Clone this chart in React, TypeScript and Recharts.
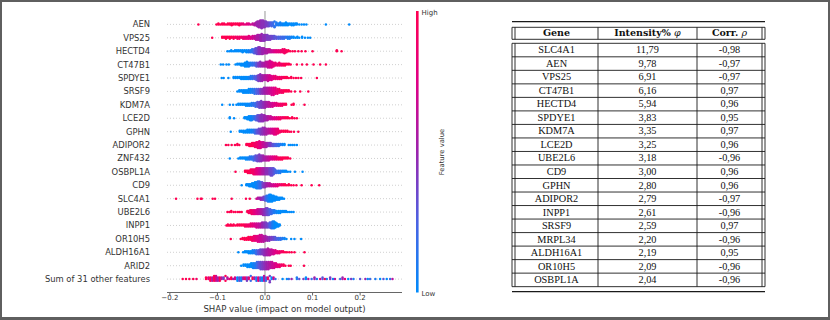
import { ScatterChart, Scatter, XAxis, YAxis, ReferenceLine } from 'recharts';

// SHAP beeswarm rows, top to bottom. Each entry: [shap value, feature value 0..1, number of samples]
type Bin = [number, number, number];

const FEATURES = [
  'AEN', 'VPS25', 'HECTD4', 'CT47B1', 'SPDYE1', 'SRSF9', 'KDM7A', 'LCE2D', 'GPHN', 'ADIPOR2',
  'ZNF432', 'OSBPL1A', 'CD9', 'SLC4A1', 'UBE2L6', 'INPP1', 'OR10H5', 'ALDH16A1', 'ARID2',
  'Sum of 31 other features',
];

const AEN: Bin[] = [
  [-0.14, 1, 1], [-0.102, 1, 1], [-0.098, 1, 2], [-0.094, 1, 1], [-0.09, 1, 2], [-0.086, 1, 2], [-0.082, 1, 1],
  [-0.078, 1, 2], [-0.074, 1, 2], [-0.07, 1, 3], [-0.066, 1, 2], [-0.062, 1, 2], [-0.058, 1, 2], [-0.054, 1, 3],
  [-0.05, 0.85, 2], [-0.046, 0.85, 2], [-0.042, 0.8, 1], [-0.038, 0.8, 2], [-0.034, 0.75, 2], [-0.03, 0.7, 1],
  [-0.026, 0.65, 2], [-0.022, 0.6, 3], [-0.019, 0.55, 4], [-0.016, 0.5, 6], [-0.013, 0.5, 7], [-0.01, 0.5, 8],
  [-0.007, 0.45, 9], [-0.004, 0.45, 8], [-0.001, 0.45, 7], [0.002, 0.4, 6], [0.005, 0.4, 5], [0.008, 0.35, 5],
  [0.011, 0.3, 4], [0.014, 0.25, 5], [0.017, 0.2, 4], [0.02, 0.15, 3], [0.024, 0.1, 4], [0.028, 0.1, 3],
  [0.032, 0.05, 4], [0.036, 0.05, 3], [0.04, 0, 3], [0.044, 0, 4], [0.048, 0, 3], [0.052, 0, 2], [0.056, 0, 3],
  [0.06, 0, 3], [0.064, 0, 2], [0.067, 0, 2], [0.072, 0, 1], [0.077, 0, 1], [0.082, 0, 1], [0.087, 0, 1],
  [0.128, 0, 1], [0.177, 0, 1],
];
const VPS25: Bin[] = [
  [-0.111, 1, 1], [-0.09, 1, 2], [-0.086, 1, 2], [-0.082, 1, 3], [-0.078, 1, 2], [-0.074, 1, 3], [-0.07, 1, 2],
  [-0.066, 0.95, 3], [-0.062, 0.95, 2], [-0.058, 0.9, 3], [-0.054, 0.9, 3], [-0.05, 0.9, 2], [-0.046, 0.85, 3],
  [-0.042, 0.85, 3], [-0.038, 0.8, 3], [-0.034, 0.8, 4], [-0.03, 0.75, 3], [-0.026, 0.7, 4], [-0.022, 0.65, 4],
  [-0.019, 0.6, 5], [-0.016, 0.55, 6], [-0.013, 0.55, 6], [-0.01, 0.5, 7], [-0.007, 0.5, 8], [-0.004, 0.45, 7],
  [-0.001, 0.45, 7], [0.002, 0.45, 6], [0.005, 0.4, 6], [0.008, 0.4, 5], [0.011, 0.4, 5], [0.014, 0.35, 4],
  [0.017, 0.35, 4], [0.02, 0.3, 4], [0.024, 0.3, 3], [0.028, 0.25, 3], [0.032, 0.25, 3], [0.036, 0.2, 3],
  [0.04, 0.2, 3], [0.044, 0.15, 2], [0.048, 0.1, 3], [0.052, 0.1, 3], [0.056, 0.05, 2], [0.06, 0, 2],
  [0.064, 0, 1], [0.068, 0, 2], [0.072, 0, 1], [0.078, 0, 2], [0.084, 0, 1], [0.09, 0, 1], [0.095, 0, 1],
];
const HECTD4: Bin[] = [
  [-0.079, 0, 1], [-0.075, 0, 1], [-0.071, 0, 2], [-0.067, 0, 1], [-0.063, 0, 2], [-0.059, 0, 2], [-0.055, 0, 2],
  [-0.051, 0, 2], [-0.047, 0, 3], [-0.043, 0, 2], [-0.039, 0, 3], [-0.035, 0.05, 3], [-0.031, 0.1, 3],
  [-0.027, 0.15, 4], [-0.023, 0.25, 5], [-0.02, 0.3, 6], [-0.017, 0.35, 7], [-0.014, 0.4, 8], [-0.011, 0.45, 8],
  [-0.008, 0.45, 7], [-0.005, 0.5, 7], [-0.002, 0.5, 6], [0.001, 0.55, 5], [0.004, 0.55, 5], [0.007, 0.6, 4],
  [0.01, 0.6, 4], [0.013, 0.65, 3], [0.017, 0.7, 3], [0.021, 0.75, 3], [0.025, 0.8, 3], [0.029, 0.8, 3],
  [0.033, 0.85, 3], [0.037, 0.9, 4], [0.041, 0.9, 5], [0.045, 0.95, 3], [0.049, 1, 2], [0.053, 1, 1],
  [0.058, 1, 1], [0.063, 1, 1], [0.07, 1, 1], [0.077, 1, 1], [0.085, 1, 1], [0.1, 1, 1], [0.151, 1, 2], [0.161, 1, 1],
];
const CT47B1: Bin[] = [
  [-0.093, 0, 1], [-0.088, 0, 1], [-0.081, 0, 1], [-0.076, 0, 1], [-0.062, 0, 1], [-0.058, 0, 2], [-0.054, 0, 2],
  [-0.05, 0, 3], [-0.046, 0, 3], [-0.042, 0, 5], [-0.038, 0, 6], [-0.034, 0.05, 5], [-0.03, 0.1, 4],
  [-0.026, 0.15, 4], [-0.022, 0.2, 4], [-0.018, 0.3, 5], [-0.014, 0.4, 5], [-0.01, 0.45, 6], [-0.006, 0.5, 5],
  [-0.002, 0.55, 5], [0.002, 0.6, 6], [0.006, 0.65, 7], [0.01, 0.7, 8], [0.014, 0.75, 7], [0.018, 0.8, 5],
  [0.022, 0.85, 4], [0.026, 0.85, 3], [0.03, 0.9, 4], [0.034, 0.9, 3], [0.038, 0.95, 3], [0.042, 1, 3],
  [0.046, 1, 2], [0.05, 1, 2], [0.054, 1, 1], [0.067, 1, 1], [0.078, 1, 1], [0.088, 1, 1], [0.102, 1, 1],
  [0.116, 1, 1], [0.128, 1, 1],
];
const SPDYE1: Bin[] = [
  [-0.091, 0, 1], [-0.087, 0, 1], [-0.077, 0, 1], [-0.066, 0, 2], [-0.062, 0, 2], [-0.058, 0, 2], [-0.054, 0, 2],
  [-0.05, 0, 3], [-0.046, 0, 3], [-0.042, 0, 3], [-0.038, 0, 3], [-0.034, 0.05, 3], [-0.03, 0.1, 4],
  [-0.026, 0.15, 4], [-0.022, 0.25, 4], [-0.018, 0.3, 5], [-0.014, 0.4, 7], [-0.01, 0.45, 8], [-0.006, 0.5, 7],
  [-0.002, 0.55, 6], [0.002, 0.6, 6], [0.006, 0.65, 7], [0.01, 0.7, 6], [0.014, 0.75, 5], [0.018, 0.8, 4],
  [0.022, 0.85, 4], [0.026, 0.85, 3], [0.03, 0.9, 3], [0.034, 0.9, 3], [0.038, 0.95, 2], [0.042, 1, 2],
  [0.046, 1, 2], [0.05, 1, 1], [0.055, 1, 2], [0.06, 1, 1], [0.065, 1, 1], [0.07, 1, 1], [0.076, 1, 1], [0.109, 1, 1],
];
const SRSF9: Bin[] = [
  [-0.058, 0, 1], [-0.054, 0, 2], [-0.05, 0, 2], [-0.046, 0, 3], [-0.042, 0, 3], [-0.038, 0, 3], [-0.034, 0, 4],
  [-0.03, 0.05, 4], [-0.026, 0.1, 4], [-0.022, 0.15, 5], [-0.018, 0.25, 5], [-0.014, 0.3, 5], [-0.01, 0.4, 5],
  [-0.006, 0.45, 5], [-0.002, 0.5, 6], [0.002, 0.55, 6], [0.006, 0.6, 6], [0.01, 0.65, 6], [0.014, 0.7, 7],
  [0.018, 0.75, 7], [0.022, 0.8, 6], [0.026, 0.85, 5], [0.03, 0.9, 4], [0.034, 0.9, 3], [0.038, 0.95, 3],
  [0.042, 1, 2], [0.046, 1, 2], [0.05, 1, 2], [0.055, 1, 1], [0.063, 1, 1], [0.074, 1, 1], [0.091, 1, 1],
];
const KDM7A: Bin[] = [
  [-0.09, 0, 1], [-0.074, 0, 1], [-0.067, 0, 1], [-0.06, 0, 1], [-0.056, 0, 2], [-0.052, 0, 2], [-0.048, 0, 2],
  [-0.044, 0, 2], [-0.04, 0, 3], [-0.036, 0, 3], [-0.032, 0.05, 3], [-0.028, 0.1, 4], [-0.024, 0.15, 4],
  [-0.02, 0.2, 5], [-0.016, 0.3, 6], [-0.012, 0.35, 7], [-0.008, 0.4, 8], [-0.004, 0.45, 7], [0, 0.5, 7],
  [0.004, 0.55, 6], [0.008, 0.6, 6], [0.012, 0.65, 5], [0.016, 0.7, 5], [0.02, 0.75, 4], [0.024, 0.8, 4],
  [0.028, 0.85, 3], [0.032, 0.9, 3], [0.036, 0.9, 3], [0.04, 0.95, 2], [0.044, 1, 2], [0.056, 1, 1],
  [0.06, 1, 2], [0.083, 1, 1],
];
const LCE2D: Bin[] = [
  [-0.074, 0, 2], [-0.065, 0, 1], [-0.043, 0, 2], [-0.04, 0, 2], [-0.037, 0, 3], [-0.034, 0, 4], [-0.031, 0, 5],
  [-0.028, 0.05, 5], [-0.025, 0.1, 4], [-0.022, 0.15, 4], [-0.019, 0.25, 5], [-0.016, 0.3, 6], [-0.013, 0.35, 7],
  [-0.01, 0.4, 7], [-0.007, 0.45, 8], [-0.004, 0.45, 7], [-0.001, 0.5, 6], [0.002, 0.5, 5], [0.005, 0.55, 5],
  [0.008, 0.6, 4], [0.012, 0.65, 4], [0.016, 0.7, 3], [0.02, 0.75, 3], [0.024, 0.8, 3], [0.028, 0.85, 3],
  [0.032, 0.9, 3], [0.036, 0.9, 2], [0.04, 0.95, 2], [0.044, 1, 2], [0.048, 1, 2], [0.052, 1, 1], [0.057, 1, 2],
  [0.062, 1, 1], [0.067, 1, 1],
];
const GPHN: Bin[] = [
  [-0.072, 0, 1], [-0.053, 0, 2], [-0.049, 0, 2], [-0.045, 0, 3], [-0.041, 0, 3], [-0.037, 0, 4], [-0.033, 0, 4],
  [-0.029, 0.05, 4], [-0.025, 0.1, 4], [-0.021, 0.2, 5], [-0.017, 0.3, 5], [-0.013, 0.35, 6], [-0.009, 0.4, 7],
  [-0.005, 0.45, 8], [-0.001, 0.5, 8], [0.003, 0.55, 7], [0.007, 0.6, 6], [0.011, 0.65, 6], [0.015, 0.7, 6],
  [0.019, 0.75, 7], [0.023, 0.8, 7], [0.027, 0.85, 6], [0.031, 0.9, 3], [0.035, 0.95, 2], [0.039, 1, 2],
  [0.043, 1, 2], [0.047, 1, 2], [0.051, 1, 1], [0.055, 1, 1], [0.061, 1, 1], [0.07, 1, 1],
];
const ADIPOR2: Bin[] = [
  [-0.082, 1, 1], [-0.077, 1, 1], [-0.07, 1, 1], [-0.063, 1, 1], [-0.058, 1, 2], [-0.054, 1, 1], [-0.039, 1, 2],
  [-0.036, 1, 2], [-0.033, 1, 3], [-0.03, 1, 3], [-0.027, 1, 4], [-0.024, 0.95, 4], [-0.021, 0.9, 5],
  [-0.018, 0.9, 6], [-0.015, 0.85, 7], [-0.012, 0.8, 8], [-0.009, 0.75, 7], [-0.006, 0.7, 6], [-0.003, 0.65, 6],
  [0, 0.6, 5], [0.003, 0.55, 5], [0.006, 0.5, 4], [0.009, 0.45, 4], [0.012, 0.4, 4], [0.015, 0.35, 3],
  [0.018, 0.3, 3], [0.021, 0.25, 3], [0.025, 0.2, 3], [0.029, 0.15, 3], [0.033, 0.1, 2], [0.037, 0.05, 2],
  [0.041, 0, 2], [0.05, 0, 1], [0.054, 0, 1], [0.058, 0, 1], [0.062, 0, 1], [0.067, 0, 1],
];
const ZNF432: Bin[] = [
  [-0.074, 0, 1], [-0.056, 0, 1], [-0.052, 0, 2], [-0.048, 0, 2], [-0.044, 0, 2], [-0.04, 0, 3], [-0.036, 0.05, 3],
  [-0.032, 0.1, 4], [-0.028, 0.15, 4], [-0.024, 0.2, 5], [-0.02, 0.3, 6], [-0.016, 0.35, 7], [-0.012, 0.4, 8],
  [-0.008, 0.45, 7], [-0.004, 0.5, 6], [0, 0.55, 5], [0.004, 0.6, 5], [0.008, 0.65, 5], [0.012, 0.7, 4],
  [0.016, 0.75, 4], [0.02, 0.8, 4], [0.024, 0.85, 4], [0.028, 0.9, 3], [0.032, 0.95, 3], [0.036, 1, 3],
  [0.04, 1, 2], [0.044, 1, 2], [0.048, 1, 2], [0.053, 1, 1],
];
const OSBPL1A: Bin[] = [
  [-0.062, 1, 1], [-0.042, 1, 2], [-0.039, 1, 2], [-0.036, 1, 3], [-0.033, 1, 3], [-0.03, 0.95, 4], [-0.027, 0.9, 4],
  [-0.024, 0.9, 5], [-0.021, 0.85, 5], [-0.018, 0.8, 6], [-0.015, 0.75, 6], [-0.012, 0.7, 6], [-0.009, 0.65, 6],
  [-0.006, 0.6, 6], [-0.003, 0.55, 6], [0, 0.5, 6], [0.003, 0.45, 6], [0.006, 0.45, 6], [0.009, 0.4, 6],
  [0.012, 0.35, 7], [0.015, 0.35, 7], [0.018, 0.3, 6], [0.021, 0.25, 4], [0.024, 0.2, 3], [0.028, 0.15, 3],
  [0.032, 0.1, 3], [0.036, 0.05, 2], [0.04, 0, 2], [0.044, 0, 2], [0.048, 0, 1], [0.053, 0, 1], [0.063, 0, 1],
  [0.079, 0, 1],
];
const CD9: Bin[] = [
  [-0.049, 0, 1], [-0.039, 0, 2], [-0.036, 0, 2], [-0.033, 0, 3], [-0.03, 0, 3], [-0.027, 0, 4], [-0.024, 0, 5],
  [-0.021, 0, 6], [-0.018, 0.05, 7], [-0.015, 0.1, 8], [-0.012, 0.15, 8], [-0.009, 0.2, 7], [-0.006, 0.3, 6],
  [-0.003, 0.4, 5], [0, 0.45, 5], [0.003, 0.5, 4], [0.006, 0.55, 4], [0.01, 0.6, 4], [0.014, 0.65, 3],
  [0.018, 0.7, 3], [0.022, 0.75, 3], [0.026, 0.8, 3], [0.03, 0.85, 2], [0.034, 0.9, 2], [0.038, 0.95, 2],
  [0.042, 1, 2], [0.046, 1, 1], [0.05, 1, 2], [0.055, 1, 1], [0.06, 1, 1], [0.066, 1, 1], [0.077, 1, 1],
  [0.098, 1, 1], [0.114, 1, 1],
];
const SLC4A1: Bin[] = [
  [-0.187, 1, 1], [-0.142, 1, 1], [-0.135, 1, 1], [-0.133, 1, 1], [-0.11, 1, 1], [-0.105, 1, 1], [-0.07, 1, 1],
  [-0.04, 1, 1], [-0.032, 1, 1], [-0.018, 0.7, 1], [-0.015, 0.6, 2], [-0.012, 0.55, 2], [-0.009, 0.5, 3],
  [-0.006, 0.45, 3], [-0.003, 0.4, 4], [0, 0.3, 5], [0.003, 0.2, 6], [0.006, 0.1, 7], [0.009, 0.05, 8],
  [0.012, 0, 8], [0.015, 0, 7], [0.018, 0, 6], [0.021, 0, 5], [0.024, 0, 4], [0.027, 0, 3], [0.03, 0, 3],
  [0.033, 0, 2], [0.036, 0, 2], [0.04, 0, 1],
];
const UBE2L6: Bin[] = [
  [-0.079, 1, 1], [-0.075, 1, 1], [-0.071, 1, 2], [-0.066, 1, 1], [-0.062, 1, 1], [-0.057, 1, 1], [-0.053, 1, 1],
  [-0.049, 1, 1], [-0.037, 1, 2], [-0.034, 0.95, 3], [-0.031, 0.9, 4], [-0.028, 0.9, 5], [-0.025, 0.85, 5],
  [-0.022, 0.8, 5], [-0.019, 0.75, 5], [-0.016, 0.7, 6], [-0.013, 0.65, 6], [-0.01, 0.6, 6], [-0.007, 0.55, 6],
  [-0.004, 0.5, 7], [-0.001, 0.45, 7], [0.002, 0.4, 8], [0.005, 0.35, 8], [0.008, 0.3, 7], [0.011, 0.25, 6],
  [0.014, 0.2, 5], [0.017, 0.15, 4], [0.02, 0.1, 4], [0.024, 0.05, 3], [0.028, 0, 3], [0.032, 0, 3],
  [0.036, 0, 2], [0.04, 0, 2], [0.044, 0, 2], [0.048, 0, 1], [0.052, 0, 1], [0.056, 0, 1], [0.06, 0, 1],
];
const INPP1: Bin[] = [
  [-0.081, 1, 1], [-0.078, 1, 2], [-0.075, 1, 1], [-0.072, 1, 2], [-0.069, 1, 1], [-0.066, 1, 2], [-0.062, 1, 1],
  [-0.058, 1, 2], [-0.054, 1, 2], [-0.05, 1, 2], [-0.046, 1, 2], [-0.042, 0.95, 3], [-0.038, 0.9, 3],
  [-0.034, 0.9, 3], [-0.03, 0.85, 4], [-0.026, 0.8, 4], [-0.022, 0.75, 4], [-0.018, 0.7, 5], [-0.014, 0.65, 5],
  [-0.01, 0.6, 5], [-0.006, 0.5, 6], [-0.002, 0.45, 6], [0.002, 0.4, 6], [0.006, 0.35, 5], [0.01, 0.25, 6],
  [0.013, 0.2, 7], [0.016, 0.1, 8], [0.019, 0.05, 8], [0.022, 0, 6], [0.025, 0, 4], [0.028, 0, 3], [0.031, 0, 2],
];
const OR10H5: Bin[] = [
  [-0.072, 1, 1], [-0.051, 1, 1], [-0.047, 1, 2], [-0.043, 1, 3], [-0.039, 1, 3], [-0.035, 1, 4], [-0.031, 0.95, 4],
  [-0.027, 0.9, 5], [-0.023, 0.85, 6], [-0.019, 0.8, 6], [-0.015, 0.75, 7], [-0.011, 0.7, 8], [-0.007, 0.65, 8],
  [-0.003, 0.6, 7], [0.001, 0.55, 6], [0.005, 0.5, 5], [0.009, 0.45, 5], [0.013, 0.4, 4], [0.017, 0.35, 4],
  [0.021, 0.3, 4], [0.025, 0.25, 3], [0.029, 0.2, 3], [0.033, 0.15, 3], [0.037, 0.1, 2], [0.041, 0.05, 2],
  [0.045, 0, 1], [0.055, 0, 1], [0.062, 0, 1], [0.076, 0, 1],
];
const ALDH16A1: Bin[] = [
  [-0.056, 0, 1], [-0.046, 0, 1], [-0.042, 0, 2], [-0.038, 0, 2], [-0.034, 0, 3], [-0.03, 0, 3], [-0.026, 0.05, 4],
  [-0.022, 0.1, 4], [-0.018, 0.2, 5], [-0.014, 0.3, 5], [-0.01, 0.35, 6], [-0.006, 0.4, 6], [-0.002, 0.45, 7],
  [0.002, 0.5, 7], [0.006, 0.55, 8], [0.01, 0.6, 7], [0.014, 0.65, 6], [0.018, 0.7, 5], [0.022, 0.75, 4],
  [0.026, 0.8, 3], [0.03, 0.85, 3], [0.034, 0.9, 2], [0.038, 0.95, 2], [0.042, 1, 1], [0.046, 1, 1],
  [0.051, 1, 1], [0.056, 1, 1], [0.062, 1, 1], [0.083, 1, 1],
];
const ARID2: Bin[] = [
  [-0.05, 0, 1], [-0.045, 0, 2], [-0.041, 0, 2], [-0.037, 0, 3], [-0.033, 0, 3], [-0.029, 0, 4], [-0.025, 0.05, 5],
  [-0.021, 0.1, 5], [-0.017, 0.2, 6], [-0.013, 0.3, 6], [-0.009, 0.35, 7], [-0.005, 0.4, 7], [-0.001, 0.45, 7],
  [0.003, 0.5, 7], [0.007, 0.55, 7], [0.011, 0.6, 6], [0.015, 0.65, 6], [0.019, 0.7, 5], [0.023, 0.75, 4],
  [0.027, 0.8, 3], [0.031, 0.85, 3], [0.035, 0.9, 2], [0.039, 0.95, 2], [0.043, 1, 1], [0.05, 1, 1],
  [0.054, 1, 1], [0.082, 1, 1],
];
const OTHERS: Bin[] = [
  [-0.173, 1, 1], [-0.166, 1, 1], [-0.159, 1, 1], [-0.151, 1, 1], [-0.144, 0.9, 1], [-0.124, 1, 2],
  [-0.119, 0.8, 2], [-0.115, 1, 3], [-0.111, 0.6, 3], [-0.107, 1, 4], [-0.103, 0.7, 4], [-0.099, 0.5, 3],
  [-0.095, 1, 3], [-0.091, 0.6, 2], [-0.087, 0.4, 2], [-0.083, 1, 2], [-0.079, 0.6, 2], [-0.075, 0.8, 1],
  [-0.071, 1, 2], [-0.067, 0.5, 1], [-0.063, 0.7, 2], [-0.058, 0, 3], [-0.054, 0.3, 3], [-0.05, 0.1, 3],
  [-0.046, 0.6, 2], [-0.042, 0.9, 2], [-0.038, 0.4, 3], [-0.034, 0.8, 2], [-0.03, 0.2, 2], [-0.026, 1, 2],
  [-0.022, 0.5, 2], [-0.018, 0.1, 3], [-0.014, 0.8, 3], [-0.01, 0.3, 3], [-0.006, 0, 3], [-0.002, 0.6, 4],
  [0.002, 0.2, 3], [0.006, 0.9, 2], [0.01, 0.4, 3], [0.014, 0, 2], [0.018, 0.7, 2], [0.022, 0.2, 1],
  [0.037, 0, 1], [0.046, 0, 1], [0.05, 0.2, 1], [0.056, 0.5, 1], [0.067, 0.1, 2], [0.072, 0.3, 1],
  [0.081, 0.4, 1], [0.086, 0, 2], [0.091, 0.6, 1], [0.098, 0.2, 1], [0.104, 0.5, 2], [0.109, 0.1, 1],
  [0.116, 0.7, 1], [0.121, 0.3, 2], [0.126, 1, 1], [0.13, 0.1, 1], [0.137, 0.4, 2], [0.143, 0, 1],
  [0.147, 0.6, 1], [0.158, 0.2, 1], [0.163, 0.5, 2], [0.168, 0.8, 1], [0.175, 0, 1], [0.181, 0.4, 1],
  [0.186, 0.1, 1], [0.2, 0.3, 1], [0.211, 0.5, 1], [0.216, 0, 1], [0.221, 0.2, 1], [0.232, 0.1, 1],
  [0.242, 0, 1], [0.249, 0.3, 1], [0.256, 0, 1], [0.263, 0.2, 1], [0.268, 0.6, 1],
];

const ROWS = [
  AEN, VPS25, HECTD4, CT47B1, SPDYE1, SRSF9, KDM7A, LCE2D, GPHN, ADIPOR2,
  ZNF432, OSBPL1A, CD9, SLC4A1, UBE2L6, INPP1, OR10H5, ALDH16A1, ARID2, OTHERS,
];

const X_TICKS = [-0.2, -0.1, 0, 0.1, 0.2];

// table on the right
const TABLE_GENES = [
  'SLC4A1', 'AEN', 'VPS25', 'CT47B1', 'HECTD4', 'SPDYE1', 'KDM7A', 'LCE2D', 'UBE2L6',
  'CD9', 'GPHN', 'ADIPOR2', 'INPP1', 'SRSF9', 'MRPL34', 'ALDH16A1', 'OR10H5', 'OSBPL1A',
];
const TABLE_INTENSITY = [
  '11,79', '9,78', '6,91', '6,16', '5,94', '3,83', '3,35', '3,25', '3,18',
  '3,00', '2,80', '2,79', '2,61', '2,59', '2,20', '2,19', '2,09', '2,04',
];
const TABLE_CORR = [
  '-0,98', '-0,97', '-0,97', '0,97', '0,96', '0,95', '0,97', '0,96', '-0,96',
  '0,96', '0,96', '-0,97', '-0,96', '0,97', '-0,96', '0,95', '-0,96', '-0,96',
];

// shap red_blue colormap (low -> high)
const CMAP = [
  [0, 139, 251],
  [75, 99, 227],
  [155, 35, 173],
  [224, 0, 134],
  [255, 0, 81],
];

function featureColor(v: number) {
  const t = Math.max(0, Math.min(1, v)) * (CMAP.length - 1);
  const i = Math.min(CMAP.length - 2, Math.floor(t));
  const f = t - i;
  const c = CMAP[i].map((a, k) => Math.round(a + (CMAP[i + 1][k] - a) * f));
  return `rgb(${c[0]},${c[1]},${c[2]})`;
}

// same stacking as shap's beeswarm: quantise into 100 bins, alternate layers up/down
function beeswarm(bins: Bin[], pos: number) {
  const pts: { x: number; c: number }[] = [];
  bins.forEach(([x, c, n]) => {
    for (let k = 0; k < n; k++) pts.push({ x, c });
  });
  const xs = pts.map((p) => p.x);
  const lo = Math.min(...xs);
  const hi = Math.max(...xs);
  const quant = pts.map((p) => Math.round((100 * (p.x - lo)) / (hi - lo + 1e-8)));
  const order = pts.map((_, i) => i).sort((a, b) => quant[a] - quant[b] || a - b);
  const ys = new Array(pts.length).fill(0);
  let layer = 0;
  let last = -1;
  for (const i of order) {
    if (quant[i] !== last) layer = 0;
    ys[i] = Math.ceil(layer / 2) * ((layer % 2) * 2 - 1);
    layer++;
    last = quant[i];
  }
  const maxY = Math.max(...ys.map((y) => y + 1));
  const scale = 0.9 * (0.4 / maxY);
  return pts.map((p, i) => ({ x: p.x, y: pos + ys[i] * scale, c: p.c }));
}

const points = ROWS.flatMap((row, i) => beeswarm(row, ROWS.length - 1 - i));
const rowIndex = ROWS.map((_, i) => i);

function fmtTick(v: number) {
  const s = Math.abs(v).toFixed(1);
  return v < 0 ? `\u2212${s}` : s;
}

function Dot(props: any) {
  const { cx, cy, payload } = props;
  if (cx == null || cy == null) return null;
  return <circle cx={cx} cy={cy} r={1.25} fill={featureColor(payload.c)} />;
}

const sans = 'DejaVu Sans, sans-serif';

function ShapTable() {
  const xs = [512, 515, 598, 697, 762, 765];
  const left = 512;
  const right = 765;
  const headTop = 27.3;
  const headBottom = 39.3;
  const bodyTop = 43.3;
  const rowH = 13.52;
  const bodyBottom = bodyTop + rowH * TABLE_GENES.length;
  const cols = [556.5, 647.5, 729.5];
  const stroke = '#1a1a1a';
  return (
    <g>
      <line x1={left} x2={right} y1={21.7} y2={21.7} stroke={stroke} strokeWidth={1.3} />
      <line x1={left} x2={right} y1={headTop} y2={headTop} stroke={stroke} strokeWidth={0.9} />
      <line x1={left} x2={right} y1={headBottom} y2={headBottom} stroke={stroke} strokeWidth={0.9} />
      {xs.map((x) => (
        <line key={'h' + x} x1={x} x2={x} y1={headTop} y2={headBottom} stroke={stroke} strokeWidth={0.9} />
      ))}
      {xs.map((x) => (
        <line key={'b' + x} x1={x} x2={x} y1={bodyTop} y2={bodyBottom} stroke={stroke} strokeWidth={0.9} />
      ))}
      {TABLE_GENES.concat(['']).map((_, i) => (
        <line key={'r' + i} x1={left} x2={right} y1={bodyTop + i * rowH} y2={bodyTop + i * rowH} stroke={stroke} strokeWidth={0.9} />
      ))}
      <line x1={left} x2={right} y1={291.7} y2={291.7} stroke={stroke} strokeWidth={1.3} />
      <g fontFamily="DejaVu Serif, serif" fontWeight="bold" fontSize={9.5} fill="#111" textAnchor="middle">
        <text x={cols[0]} y={headTop + 9}>Gene</text>
        <text x={cols[1]} y={headTop + 9}>
          Intensity% <tspan fontStyle="italic" fontWeight="normal">φ</tspan>
        </text>
        <text x={cols[2]} y={headTop + 9}>
          Corr. <tspan fontStyle="italic" fontWeight="normal">ρ</tspan>
        </text>
      </g>
      <g fontFamily="Liberation Serif, serif" fontSize={10.3} fill="#111" textAnchor="middle">
        {TABLE_GENES.map((g, i) => {
          const y = bodyTop + i * rowH + 10;
          return (
            <g key={g}>
              <text x={cols[0]} y={y}>{g}</text>
              <text x={cols[1]} y={y}>{TABLE_INTENSITY[i]}</text>
              <text x={cols[2]} y={y}>{TABLE_CORR[i]}</text>
            </g>
          );
        })}
      </g>
    </g>
  );
}

export default function App() {
  // colour bar stops, top (high) to bottom (low)
  const barStops = CMAP.slice().reverse();
  return (
    <div style={{ position: 'absolute', left: 0, top: 0, width: 830, height: 320, background: '#fff' }}>
      <ScatterChart width={480} height={320} margin={{ top: 11, right: 78, bottom: 0, left: 0 }}>
        <XAxis
          type="number"
          dataKey="x"
          domain={[-0.206, 0.288]}
          ticks={X_TICKS}
          tickFormatter={fmtTick}
          allowDataOverflow
          height={27.5}
          tickSize={3}
          tickMargin={0}
          stroke="#666"
          tick={{ fontSize: 7, fill: '#333', fontFamily: sans }}
          label={{
            value: 'SHAP value (impact on model output)',
            position: 'insideBottom',
            offset: 8,
            fontSize: 8.6,
            fill: '#333',
            fontFamily: sans,
          }}
        />
        <YAxis
          type="number"
          dataKey="y"
          domain={[-1, 20]}
          ticks={rowIndex}
          interval={0}
          tickFormatter={(v: number) => FEATURES[ROWS.length - 1 - v]}
          width={167}
          axisLine={false}
          tickLine={false}
          tickSize={0}
          tickMargin={17}
          tick={{ fontSize: 8.4, fill: '#333', fontFamily: sans }}
        />
        {rowIndex.map((i) => (
          <ReferenceLine key={i} y={i} stroke="#c4c4c4" strokeWidth={0.8} strokeDasharray="1 2" />
        ))}
        <ReferenceLine x={0} stroke="#999" strokeWidth={1} />
        <Scatter data={points} shape={Dot} isAnimationActive={false} />
      </ScatterChart>
      <svg width={830} height={320} style={{ position: 'absolute', left: 0, top: 0 }}>
        <defs>
          <linearGradient id="cbar" x1="0" y1="0" x2="0" y2="1">
            {barStops.map((c, i) => (
              <stop key={i} offset={i / (barStops.length - 1)} stopColor={`rgb(${c[0]},${c[1]},${c[2]})`} />
            ))}
          </linearGradient>
        </defs>
        <rect x={416} y={11} width={2.6} height={281.5} fill="url(#cbar)" />
        <g fontFamily={sans} fill="#333">
          <text x={421.5} y={14.5} fontSize={7}>High</text>
          <text x={421.5} y={295.5} fontSize={7}>Low</text>
          <text x={0} y={0} fontSize={6.8} textAnchor="middle" transform="translate(444,152) rotate(-90)">
            Feature value
          </text>
        </g>
        <ShapTable />
      </svg>
      <div
        style={{
          position: 'absolute',
          left: 0,
          top: 0,
          width: 830,
          height: 320,
          boxSizing: 'border-box',
          border: '2px solid #5f5f5f',
          borderBottomWidth: 3,
        }}
      />
    </div>
  );
}
